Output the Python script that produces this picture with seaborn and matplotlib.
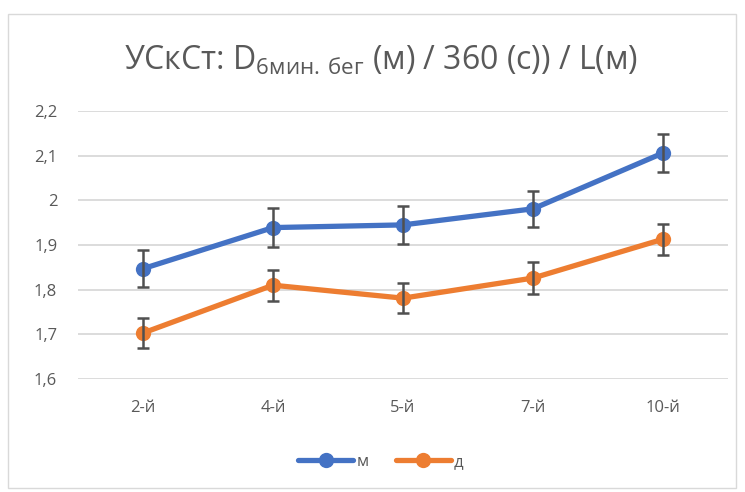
import matplotlib.pyplot as plt
import seaborn as sns
import pandas as pd
from matplotlib.patches import Rectangle
from matplotlib.ticker import FuncFormatter

groups = ["2-й", "4-й", "5-й", "7-й", "10-й"]
m_vals = [1.847, 1.939, 1.945, 1.981, 2.106]
m_err = [0.042, 0.043, 0.043, 0.041, 0.043]
d_vals = [1.703, 1.810, 1.781, 1.826, 1.913]
d_err = [0.034, 0.035, 0.034, 0.035, 0.035]

sns.set_style("white")
plt.rcParams["font.family"] = ["Open Sans", "DejaVu Sans"]
plt.rcParams["mathtext.fontset"] = "custom"
plt.rcParams["mathtext.rm"] = "Open Sans"

grey = "#595959"
colors = {"м": "#4472C4", "д": "#ED7D31"}

data = pd.DataFrame({
    "group": groups * 2,
    "val": m_vals + d_vals,
    "err": m_err + d_err,
    "sex": ["м"] * len(groups) + ["д"] * len(groups),
})

fig = plt.figure(figsize=(7.45, 4.92), dpi=100)
fig.patches.append(Rectangle((8 / 745, 4 / 492), 728 / 745, 474 / 492,
                             transform=fig.transFigure, fill=False,
                             edgecolor="#D9D9D9", linewidth=1.0))
ax = fig.add_axes([78 / 745, 1 - 379 / 492, 650 / 745, 268 / 492])

sns.lineplot(data=data, x="group", y="val", hue="sex", palette=colors,
             marker="o", markersize=11, markeredgewidth=0, linewidth=3.8,
             ax=ax, legend=True, zorder=3)

for sex in ["м", "д"]:
    sub = data[data["sex"] == sex]
    ax.errorbar(range(len(sub)), sub["val"], yerr=sub["err"], fmt="none",
                ecolor="#505050", elinewidth=1.8, capsize=4.5, capthick=1.8, zorder=4)

ax.set_xlim(-0.5, len(groups) - 0.5)
ax.set_ylim(1.6, 2.2)
ax.set_yticks([1.6, 1.7, 1.8, 1.9, 2.0, 2.1, 2.2])
ax.yaxis.set_major_formatter(FuncFormatter(lambda v, p: f"{v:g}".replace(".", ",")))
ax.grid(axis="y", color="#D9D9D9", linewidth=1.3)
ax.set_axisbelow(True)
sns.despine(ax=ax, left=True, bottom=True)
ax.tick_params(axis="both", length=0, labelsize=12, labelcolor=grey)
ax.tick_params(axis="y", pad=15)
ax.tick_params(axis="x", pad=15)
ax.set_xlabel("")
ax.set_ylabel("")

h, l = ax.get_legend_handles_labels()
ax.legend(h, l, loc="center", bbox_to_anchor=(381 / 745, 1 - 462 / 492),
          bbox_transform=fig.transFigure, ncol=2, frameon=False,
          fontsize=12, labelcolor=grey, handlelength=3.3, handletextpad=0.2,
          columnspacing=1.6)

fig.text(381 / 745, 1 - 61 / 492,
         r"УСкСт: D$_{\mathregular{6мин.\,бег}}$ (м) / 360 (с)) / L(м)",
         ha="center", va="center", fontsize=23, color=grey)

fig.savefig("out.png", dpi=100)
